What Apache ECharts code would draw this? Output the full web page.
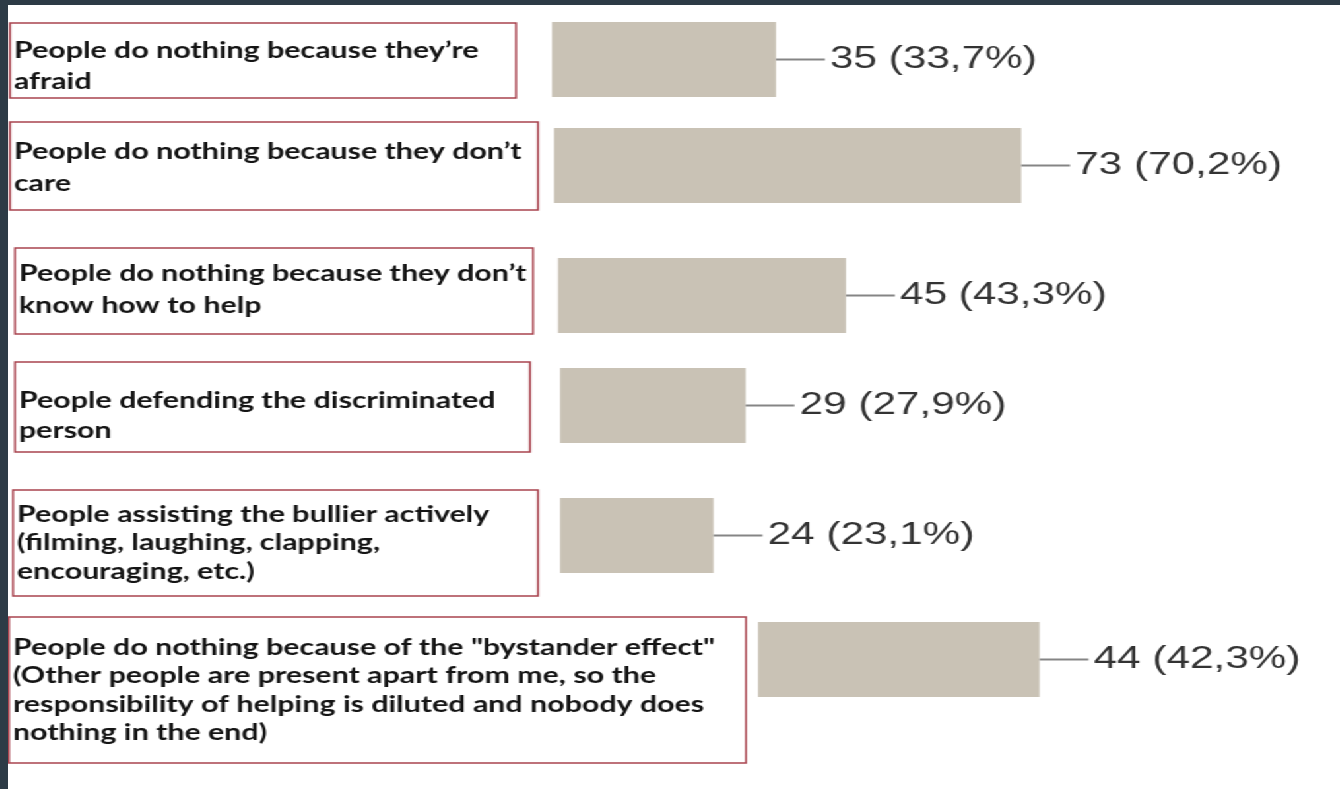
<!DOCTYPE html>
<html><head><meta charset="utf-8">
<script src="https://cdn.jsdelivr.net/npm/echarts@6/dist/echarts.min.js"></script>
<style>
html,body{margin:0;padding:0;width:1340px;height:789px;background:#2d3b46;overflow:hidden}
#chart{position:absolute;left:8px;top:5px;width:1009px;height:784px;background:#fff;transform:scaleX(1.32);transform-origin:0 0}
</style></head><body><div id="chart"></div>
<script>
// ---- data ----
const categories = [
  'People do nothing because they\u2019re\nafraid',
  'People do nothing because they don\u2019t\ncare',
  'People do nothing because they don\u2019t\nknow how to help',
  'People defending the discriminated\nperson',
  'People assisting the bullier actively\n(filming, laughing, clapping,\nencouraging, etc.)',
  'People do nothing because of the "bystander effect"\n(Other people are present apart from me, so the\nresponsibility of helping is diluted and nobody does\nnothing in the end)'
];
const counts = [35, 73, 45, 29, 24, 44];
const percents = [33.7, 70.2, 43.3, 27.9, 23.1, 42.3];

// ---- layout (page px; the picture is stretched horizontally) ----
const S = 1.32;
const cx = x => (x - 8) / S;
const cy = y => y - 5;
const barRows = [
  {left: 552, top: 22}, {left: 554, top: 128}, {left: 558, top: 258},
  {left: 560, top: 368}, {left: 560, top: 498}, {left: 758, top: 622}
];
const barH = 75;
const pxPerUnit = 6.4;
const boxRows = [
  {l: 10, r: 516, t: 23, b: 98, pt: 12, lh: 31},
  {l: 10, r: 538, t: 122, b: 210, pt: 14, lh: 32},
  {l: 15, r: 533, t: 248, b: 334, pt: 10, lh: 32},
  {l: 15, r: 530, t: 362, b: 452, pt: 24, lh: 30},
  {l: 13, r: 538, t: 490, b: 596, pt: 10, lh: 28.5},
  {l: 9, r: 746, t: 617, b: 763, pt: 16, lh: 28.5}
];

const grid = [], xAxis = [], yAxis = [], series = [];
const fmtPct = p => p.toFixed(1).replace('.', ',');

counts.forEach((v, i) => {
  const br = barRows[i];
  grid.push({left: cx(br.left), top: cy(br.top), height: barH, width: 100 * pxPerUnit / S,
    containLabel: false, outerBoundsMode: 'none'});
  xAxis.push({gridIndex: i, type: 'value', min: 0, max: 100, show: false});
  yAxis.push({gridIndex: i, type: 'category', data: [categories[i]], show: false});
  series.push({
    type: 'bar', xAxisIndex: i, yAxisIndex: i, data: [v], barWidth: barH,
    itemStyle: {color: '#c9c2b5'}, silent: true,
    label: {
      show: true, position: 'right', distance: 0,
      formatter: p => '{l| }{t|' + p.value + ' (' + fmtPct(percents[i]) + '%)}',
      rich: {
        l: {width: 37, height: 2, backgroundColor: '#858585'},
        t: {fontFamily: '"Liberation Sans", Arial, sans-serif', fontSize: 32, color: '#333', padding: [0, 0, 0, 4]}
      }
    }
  });
});

boxRows.forEach((b, i) => {
  const gi = counts.length + i;
  const gLeft = 700;
  const boxL = cx(b.l), boxW = (b.r - b.l) / S, boxH = b.b - b.t;
  // a 2px-high grid whose single category centre sits on the box's top edge
  grid.push({left: gLeft, top: cy(b.t) - 1, height: 2, width: 10, outerBoundsMode: 'none'});
  xAxis.push({gridIndex: gi, type: 'value', show: false});
  yAxis.push({
    gridIndex: gi, type: 'category', data: [categories[i]],
    axisLine: {show: false}, axisTick: {show: false}, splitLine: {show: false},
    axisLabel: {
      show: true, align: 'left', verticalAlign: 'top', margin: gLeft - boxL,
      fontFamily: 'Lato, sans-serif', fontWeight: 'bold', fontSize: 23, lineHeight: b.lh, color: '#141414',
      width: boxW - 3, height: boxH - b.pt, padding: [b.pt, 0, 0, 3],
      borderColor: '#a9444f', borderWidth: 1.5, overflow: 'none'
    }
  });
});

const chart = echarts.init(document.getElementById('chart'));
chart.setOption({animation: false, grid, xAxis, yAxis, series});
</script></body></html>
